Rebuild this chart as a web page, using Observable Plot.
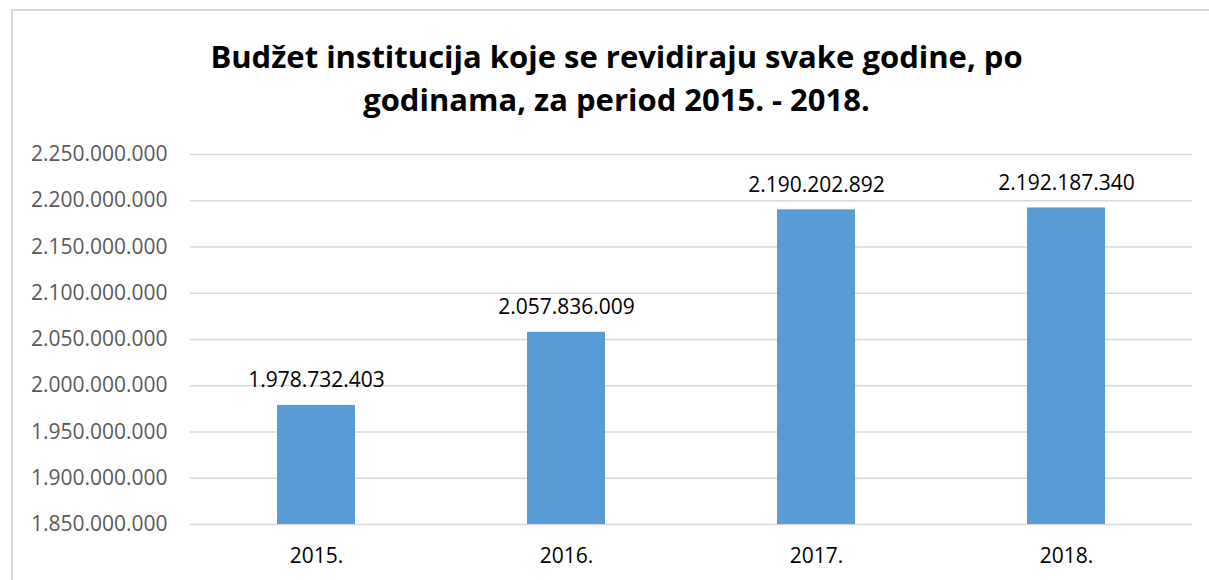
<!DOCTYPE html>
<html>
<head>
<meta charset="utf-8">
<script src="https://cdn.jsdelivr.net/npm/d3@7"></script>
<script src="https://cdn.jsdelivr.net/npm/@observablehq/plot@0.6"></script>
<style>
  html, body { margin: 0; padding: 0; background: #fff; }
  #page { position: relative; width: 1209px; height: 580px; overflow: hidden; }
  #frame { position: absolute; left: 11px; top: 9px; width: 1300px; height: 700px;
           border-left: 2px solid #d9d9d9; border-top: 2px solid #d9d9d9; box-sizing: border-box; }
  #title { position: absolute; left: 12px; top: 35px; width: 1209px; text-align: center;
           font-family: "Open Sans", Lato, sans-serif; font-weight: 700; font-size: 31px;
           line-height: 43px; color: #000; }
  #chart { position: absolute; left: 0; top: 130px; }
</style>
</head>
<body>
<div id="page">
  <div id="frame"></div>
  <div id="title">Budžet institucija koje se revidiraju svake godine, po<br>godinama, za period 2015. - 2018.</div>
  <div id="chart"></div>
</div>
<script>
const years = ["2015.", "2016.", "2017.", "2018."];
const budgets = [1978732403, 2057836009, 2190202892, 2192187340];
const yTicks = [1850000000, 1900000000, 1950000000, 2000000000, 2050000000, 2100000000, 2150000000, 2200000000, 2250000000];
const baseline = yTicks[0];

const data = years.map((year, i) => ({year, value: budgets[i]}));
const fmt = d3.formatLocale({thousands: ".", decimal: ",", grouping: [3], currency: ["", ""]}).format(",d");

const chart = Plot.plot({
  width: 1209,
  height: 450,
  marginTop: 24,
  marginBottom: 56,
  marginLeft: 190,
  marginRight: 17,
  style: {fontFamily: "'Open Sans', sans-serif", fontSize: "21px", background: "transparent", color: "#000"},
  x: {domain: years, paddingInner: 0.689, paddingOuter: 0.3445, label: null},
  y: {domain: [yTicks[0], yTicks[yTicks.length - 1]], label: null},
  marks: [
    Plot.ruleY(yTicks, {stroke: "#d9d9d9", strokeWidth: 1.3}),
    Plot.barY(data, {x: "year", y1: () => baseline, y2: "value", fill: "#5b9bd5"}),
    Plot.text(data, {x: "year", y: "value", text: d => fmt(d.value), dy: -25, fill: "#000", fontSize: 21}),
    Plot.axisY({ticks: yTicks, tickFormat: fmt, tickSize: 0, tickPadding: 23, color: "#595959", label: null, fontSize: 21}),
    Plot.axisX({tickSize: 0, tickPadding: 24, label: null, fontSize: 21, color: "#000"})
  ]
});
document.getElementById("chart").appendChild(chart);
</script>
</body>
</html>
